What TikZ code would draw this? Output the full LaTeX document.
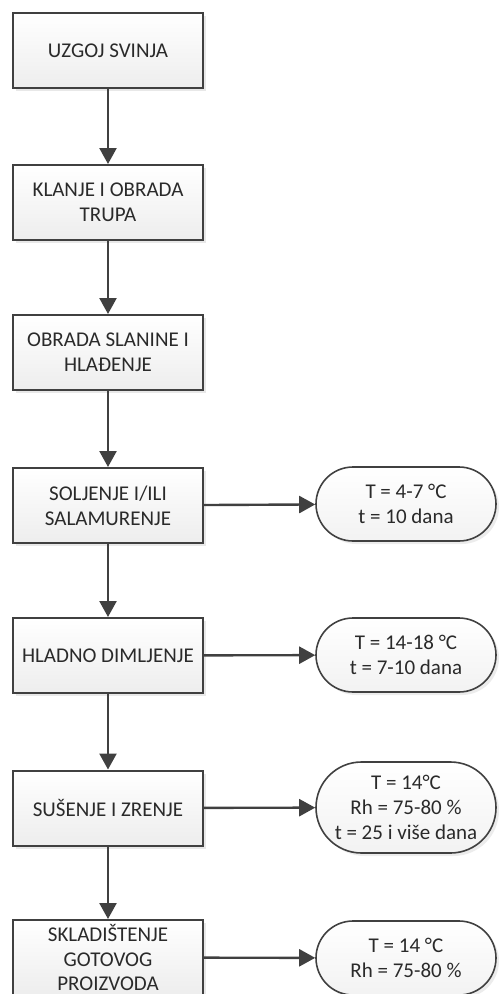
\documentclass[tikz,border=0pt]{standalone}
\usepackage{fontspec}
\setmainfont{Carlito}
\usetikzlibrary{arrows.meta,shapes.misc,shadows}
\definecolor{ln}{HTML}{404040}
\definecolor{tx}{HTML}{2A2A2A}
\tikzset{
  stepbox/.style={draw=ln, line width=2pt, top color=white, bottom color=gray!14,
    minimum width=190pt, minimum height=75pt, inner sep=0pt, align=center,
    text=tx, font=\fontsize{21}{25}\selectfont,
    drop shadow={opacity=0.18, shadow xshift=3pt, shadow yshift=-3pt}},
  pill/.style={draw=ln, line width=1.6pt, rounded rectangle, top color=white, bottom color=gray!10,
    minimum width=180pt, minimum height=74pt, inner sep=0pt, align=center,
    text=tx, font=\fontsize{21}{25}\selectfont,
    drop shadow={opacity=0.15, shadow xshift=3pt, shadow yshift=-3pt}},
  flow/.style={draw=ln, line width=2.4pt, -{Triangle[width=17pt,length=16pt]}}
}
\begin{document}
\begin{tikzpicture}[x=1pt,y=-1pt]
\useasboundingbox (0,0) rectangle (499,994);
\clip (0,0) rectangle (499,994);
\node[stepbox] (b1) at (108,50.5) {UZGOJ SVINJA};
\node[stepbox] (b2) at (108,202.5) {KLANJE I OBRADA\\TRUPA};
\node[stepbox] (b3) at (108,352.5) {OBRADA SLANINE I\\HLAĐENJE};
\node[stepbox] (b4) at (108,505.5) {SOLJENJE I/ILI\\SALAMURENJE};
\node[stepbox] (b5) at (108,655.5) {HLADNO DIMLJENJE};
\node[stepbox] (b6) at (108,808) {SUŠENJE I ZRENJE};
\node[stepbox, font=\fontsize{21}{24.5}\selectfont] (b7) at (108,957.5) {SKLADIŠTENJE\\GOTOVOG\\PROIZVODA};
\node[pill] (p4) at (406,504) {T = 4-7 °C\\t = 10 dana};
\node[pill] (p5) at (406,655) {T = 14-18 °C\\t = 7-10 dana};
\node[pill, minimum height=91pt] (p6) at (406,807.5) {T = 14°C\\Rh = 75-80 \%\\t = 25 i više dana};
\node[pill] (p7) at (406,958) {T = 14 °C\\Rh = 75-80 \%};
\draw[flow] (b1) -- (b2);
\draw[flow] (b2) -- (b3);
\draw[flow] (b3) -- (b4);
\draw[flow] (b4) -- (b5);
\draw[flow] (b5) -- (b6);
\draw[flow] (b6) -- (b7);
\draw[flow] (b4) -- (p4);
\draw[flow] (b5) -- (p5);
\draw[flow] (b6) -- (p6);
\draw[flow] (b7) -- (p7);
\end{tikzpicture}
\end{document}
